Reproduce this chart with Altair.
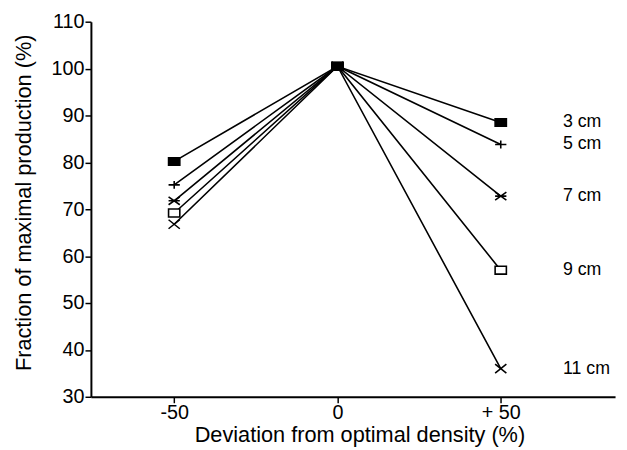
import altair as alt
import pandas as pd

series = ["3 cm", "5 cm", "7 cm", "9 cm", "11 cm"]
deviation = [-50, 0, 50]
values = {
    "3 cm": [80.2, 100.5, 88.5],
    "5 cm": [75.2, 100.5, 83.8],
    "7 cm": [71.8, 100.5, 72.8],
    "9 cm": [69.2, 100.5, 57.0],
    "11 cm": [66.8, 100.5, 36.0],
}

rows = []
for s in reversed(series):
    for x, v in zip(deviation, values[s]):
        rows.append({"series": s, "dev": x, "val": v})
df = pd.DataFrame(rows)

shapes = [
    "M-1,-0.65L1,-0.65L1,0.65L-1,0.65Z",
    "M-1,0L1,0M0,-0.7L0,0.7",
    "M-1,-0.7L1,0.7M-1,0.7L1,-0.7M-1,0L1,0",
    "M-1,-0.7L1,-0.7L1,0.7L-1,0.7Z",
    "M-1,-0.8L1,0.8M-1,0.8L1,-0.8",
]
fills = ["black", "white", "white", "white", "white"]

FONT = "Liberation Sans"

xsc = alt.Scale(domain=[-75.5, 85], nice=False, zero=False)
ysc = alt.Scale(domain=[30, 110], nice=False, zero=False)

base = alt.Chart(df)

lines = base.mark_line(color="black", strokeWidth=1.6).encode(
    x=alt.X("dev:Q", scale=xsc,
            axis=alt.Axis(title="Deviation from optimal density (%)", values=[-50, 0, 50],
                          labelExpr="datum.value > 0 ? '+ ' + datum.value : '' + datum.value",
                          titleX=272)),
    y=alt.Y("val:Q", scale=ysc,
            axis=alt.Axis(title="Fraction of maximal production (%)", values=list(range(30, 111, 10)),
                          titleY=183)),
    detail="series:N",
)

points = base.mark_point(stroke="black", strokeWidth=1.6, opacity=1).encode(
    x=alt.X("dev:Q", scale=xsc),
    y=alt.Y("val:Q", scale=ysc),
    shape=alt.Shape("series:N", scale=alt.Scale(domain=series, range=shapes), legend=None),
    fill=alt.Fill("series:N", scale=alt.Scale(domain=series, range=fills), legend=None),
    size=alt.value(130),
)

labels = base.transform_filter(alt.datum.dev == 50).mark_text(
    align="left", baseline="middle", dx=63, fontSize=18, font=FONT, color="black"
).encode(
    x=alt.X("dev:Q", scale=xsc),
    y=alt.Y("val:Q", scale=ysc),
    text="series:N",
)

chart = alt.layer(lines, points, labels).properties(
    width=531, height=380,
    autosize="none",
    padding={"left": 84, "top": 11, "right": 4, "bottom": 50},
).configure_view(stroke=None).configure_axis(
    domainColor="black", domainWidth=2, tickColor="black", tickWidth=1.5, tickSize=6,
    labelFont=FONT, labelFontSize=20, labelColor="black",
    titleFont=FONT, titleFontSize=22, titleFontWeight="normal", titleColor="black",
    grid=False,
).configure_axisY(titlePadding=16, labelPadding=1).configure_axisX(titlePadding=2, labelPadding=0)

chart.save("out.html", embed_options={"renderer": "svg", "actions": False})
